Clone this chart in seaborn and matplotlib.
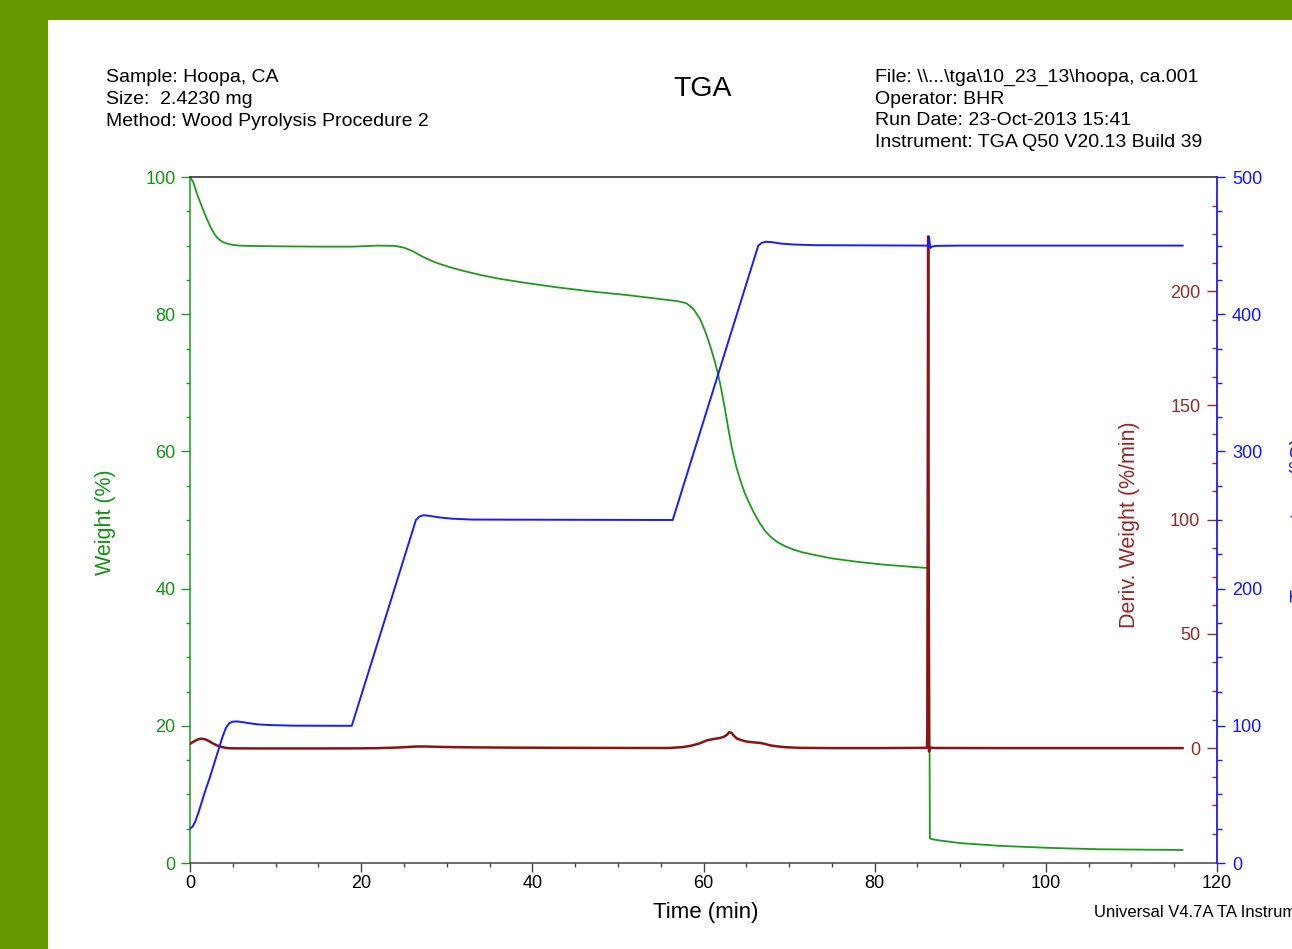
import matplotlib
matplotlib.use("Agg")
import numpy as np
import pandas as pd
import matplotlib.pyplot as plt
import seaborn as sns
from matplotlib.patches import Rectangle
from matplotlib.ticker import MultipleLocator, FixedLocator

# ---------------- data ----------------
weight_time = [0, 0.4, 0.8, 1.2, 1.6, 2.0, 2.4, 2.8, 3.2, 3.7, 4.3, 5.0, 5.8, 7, 10, 15, 19, 22, 24, 25,
               26, 27, 28, 29, 30.5, 32, 34, 36, 39, 43, 47, 51, 55, 57, 58, 58.8, 59.6, 60.2, 60.8,
               61.3, 61.7, 62.1, 62.5, 62.9, 63.3, 63.8, 64.3, 64.8, 65.4, 66.0, 66.6, 67.2, 67.8,
               68.6, 69.5, 70.5, 71.5, 73, 75, 78, 81, 84, 86.2, 86.35, 86.45, 86.6, 87.5, 90, 94.6,
               100.5, 106.3, 111, 116]
weight_pct = [100, 99.2, 97.6, 96.3, 95.0, 93.8, 92.7, 91.8, 91.1, 90.6, 90.3, 90.1, 90.0, 89.95, 89.9,
              89.85, 89.85, 90.0, 89.95, 89.7, 89.2, 88.5, 87.9, 87.4, 86.8, 86.3, 85.7, 85.2, 84.6,
              83.9, 83.3, 82.8, 82.2, 81.9, 81.6, 80.8, 79.3, 77.5, 75.3, 73.2, 71.3, 68.9, 66.2,
              63.3, 60.6, 57.9, 55.8, 54.0, 52.3, 50.8, 49.5, 48.4, 47.6, 46.8, 46.2, 45.7, 45.3,
              44.9, 44.4, 43.9, 43.5, 43.2, 43.0, 42.9, 3.6, 3.5, 3.3, 2.9, 2.5, 2.2, 2.0, 1.95, 1.9]

deriv_time = [0, 0.4, 0.8, 1.1, 1.4, 1.8, 2.2, 2.7, 3.2, 3.7, 4.3, 5, 8, 15, 20, 22, 24, 25.5, 26.5,
              27.5, 29, 31, 34, 38, 45, 52, 56, 57.5, 58.5, 59.5, 60.4, 61.2, 61.9, 62.4, 62.8, 63.0,
              63.3, 63.6, 63.9, 64.4, 65.0, 65.8, 66.6, 67.2, 67.8, 68.5, 69.5, 71.3, 75, 80, 86.1,
              86.15, 86.25, 86.35, 86.45, 87, 95, 105, 116]
deriv_val = [1.8, 2.8, 3.6, 4.0, 4.1, 3.8, 3.1, 2.0, 1.1, 0.5, 0.0, -0.1, -0.15, -0.15, -0.1, 0.0, 0.2,
             0.5, 0.7, 0.7, 0.55, 0.4, 0.3, 0.2, 0.1, 0.05, 0.05, 0.4, 1.0, 2.0, 3.4, 4.0, 4.4, 5.0,
             6.0, 7.0, 6.6, 5.2, 4.2, 3.5, 2.9, 2.5, 2.3, 1.8, 1.2, 0.8, 0.4, 0.1, 0.0, 0.0, 0.1, 5.7,
             224, -1.5, 0.2, 0.05, 0.0, 0.0, 0.0]

temp_time = [0, 0.3, 0.6, 1.0, 1.4, 1.8, 2.3, 2.8, 3.3, 3.8, 4.2, 4.6, 5.0, 5.5, 6.2, 7.0, 8.0, 9.5, 12,
             18.9, 26.4, 26.8, 27.3, 28.0, 29.0, 30.5, 33, 56.4, 66.4, 66.8, 67.3, 68.0, 69.0, 70.5,
             73, 86.3, 86.35, 86.5, 86.7, 87.2, 90, 116]
temp_c = [25, 26.5, 30, 37, 45, 53, 62, 72, 82, 92, 98.5, 102, 103, 103.2, 102.6, 101.8, 101, 100.5,
          100.1, 100, 250, 252.5, 253.5, 253, 252, 251, 250.3, 250, 450, 452, 452.8, 452.5, 451.5,
          450.8, 450.3, 450, 456.5, 448.3, 449.3, 449.8, 450, 450]

x_ticks = [0, 20, 40, 60, 80, 100, 120]
weight_ticks = [0, 20, 40, 60, 80, 100]
deriv_ticks = [0, 50, 100, 150, 200]
temp_ticks = [0, 100, 200, 300, 400, 500]

header_left = ["Sample: Hoopa, CA", "Size:  2.4230 mg", "Method: Wood Pyrolysis Procedure 2"]
header_right = ["File: \\\\...\\tga\\10_23_13\\hoopa, ca.001", "Operator: BHR",
                "Run Date: 23-Oct-2013 15:41", "Instrument: TGA Q50 V20.13 Build 39"]

# ---------------- style ----------------
sns.set_style("white")
plt.rcParams['font.family'] = ['Liberation Sans', 'DejaVu Sans']

GREEN_L, GREEN_T = '#1e9a1e', '#119411'
BLUE_L, BLUE_T = '#1a1aff', '#1414ff'
RED_L, RED_T = '#8b1212', '#962828'

W, H = 1292, 949
fig = plt.figure(figsize=(W / 100, H / 100), dpi=100, facecolor='#669900')
fig.add_artist(Rectangle((48 / W, 0), 1 - 48 / W, 1 - 20 / H, transform=fig.transFigure,
                         facecolor='white', edgecolor='none', zorder=-1))

L, R, T, B = 190, 1217, 177, 863
ax = fig.add_axes([L / W, 1 - B / H, (R - L) / W, (B - T) / H])
ax.set_facecolor('white')
ax2 = ax.twinx()
ax3 = ax.twinx()

df_w = pd.DataFrame({'t': weight_time, 'v': weight_pct})
df_d = pd.DataFrame({'t': deriv_time, 'v': deriv_val})
df_t = pd.DataFrame({'t': temp_time, 'v': temp_c})

sns.lineplot(data=df_w, x='t', y='v', ax=ax, color=GREEN_L, linewidth=1.3, errorbar=None)
sns.lineplot(data=df_d, x='t', y='v', ax=ax2, color=RED_L, linewidth=1.8, errorbar=None)
sns.lineplot(data=df_t, x='t', y='v', ax=ax3, color=BLUE_L, linewidth=1.4, errorbar=None)

ax.set_xlim(0, 120)
ax.set_ylim(0, 100)
ax2.set_ylim(-50.3, 250)
ax3.set_ylim(0, 500)

# x axis
ax.xaxis.set_major_locator(FixedLocator(x_ticks))
ax.xaxis.set_minor_locator(MultipleLocator(5))
ax.tick_params(axis='x', which='major', direction='out', length=6.5, width=1, color='#444444',
               labelsize=13, pad=2, labelcolor='black', bottom=True, top=False)
ax.tick_params(axis='x', which='minor', direction='out', length=3.2, width=1, color='#444444',
               bottom=True, top=False)
# left weight axis
ax.yaxis.set_major_locator(FixedLocator(weight_ticks))
ax.yaxis.set_minor_locator(MultipleLocator(5))
ax.tick_params(axis='y', which='major', direction='out', length=6.5, width=1, color=GREEN_L,
               labelcolor=GREEN_T, labelsize=13, pad=4, left=True, right=False)
ax.tick_params(axis='y', which='minor', direction='out', length=3.2, width=1, color=GREEN_L,
               left=True, right=False)

# deriv axis (ticks inward, labels inside)
ax2.yaxis.set_major_locator(FixedLocator(deriv_ticks))
ax2.yaxis.set_minor_locator(FixedLocator([v for v in np.arange(-37.5, 250, 12.5) if v % 50 != 0]))
ax2.tick_params(axis='y', which='major', direction='in', length=7.2, width=1, color=RED_T,
                labelcolor=RED_T, labelsize=13, pad=-12, right=True, left=False)
ax2.tick_params(axis='y', which='minor', direction='in', length=3.6, width=1, color=RED_T,
                right=True, left=False)
for tk in ax2.yaxis.get_major_ticks():
    tk.label2.set_horizontalalignment('right')

# temperature axis
ax3.yaxis.set_major_locator(FixedLocator(temp_ticks))
ax3.yaxis.set_minor_locator(MultipleLocator(25))
ax3.tick_params(axis='y', which='major', direction='out', length=5.8, width=1, color=BLUE_L,
                labelcolor=BLUE_T, labelsize=13, pad=5, right=True, left=False)
ax3.tick_params(axis='y', which='minor', direction='out', length=3.6, width=1, color=BLUE_L,
                right=True, left=False)

for a in (ax, ax2, ax3):
    a.grid(False)
    for s in a.spines.values():
        s.set_visible(False)
ax.spines['left'].set_visible(True)
ax.spines['left'].set_color(GREEN_L)
ax.spines['bottom'].set_visible(True)
ax.spines['bottom'].set_color('#444444')
ax.spines['top'].set_visible(True)
ax.spines['top'].set_color('#222222')
ax3.spines['right'].set_visible(True)
ax3.spines['right'].set_color(BLUE_L)
for s in ('left', 'bottom', 'top'):
    ax.spines[s].set_linewidth(1.1)
ax3.spines['right'].set_linewidth(1.3)

# axis labels
ax.set_xlabel('Time (min)', fontsize=16, color='black')
ax.xaxis.set_label_coords(0.5024, -0.057)
ax.set_ylabel('Weight (%)', fontsize=15.5, color=GREEN_T)
ax.yaxis.set_label_coords(-0.072, 0.497)
ax2.set_ylabel('Deriv. Weight (%/min)', fontsize=15.5, color=RED_T)
ax2.yaxis.set_label_coords(0.9046, 0.4927)
ax3.set_ylabel('Temperature (°C)', fontsize=15.5, color=BLUE_T)
ax3.yaxis.set_label_coords(1.0708, 0.5)

# header texts
for i, s in enumerate(header_left):
    fig.text(106 / W, 1 - (82 + 22 * i) / H, s, fontsize=14, ha='left', va='baseline', color='black')
for i, s in enumerate(header_right):
    fig.text(875 / W, 1 - (82 + 21.7 * i) / H, s, fontsize=14, ha='left', va='baseline', color='black')
fig.text(703 / W, 1 - 96 / H, 'TGA', fontsize=20.5, ha='center', va='baseline', color='black')
fig.text(1094 / W, 1 - 917 / H, 'Universal V4.7A TA Instruments', fontsize=12, ha='left',
         va='baseline', color='black')

fig.savefig('out.png', dpi=100, facecolor=fig.get_facecolor())
